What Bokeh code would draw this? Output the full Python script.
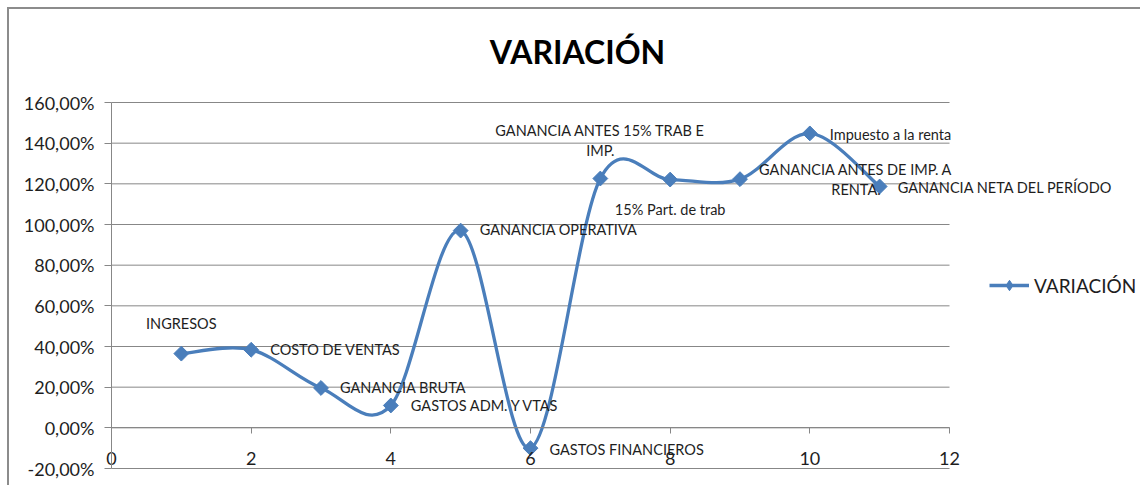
import numpy as np
from bokeh.plotting import figure
from bokeh.models import (ColumnDataSource, LabelSet, Label, Legend, LegendItem, FixedTicker,
                          CustomJSTickFormatter, Range1d)
from bokeh.embed import file_html
from bokeh.resources import INLINE
from bokeh.core.properties import value

# ---------------- data ----------------
x_pos = [1, 2, 3, 4, 5, 6, 7, 8, 9, 10, 11]
variacion = [36.5, 38.4, 19.6, 11.0, 97.0, -10.0, 122.6, 122.1, 122.3, 144.8, 118.7]
point_labels = ["INGRESOS", "COSTO DE VENTAS", "GANANCIA BRUTA", "GASTOS ADM. Y VTAS",
                "GANANCIA OPERATIVA", "GASTOS FINANCIEROS",
                "GANANCIA ANTES 15% TRAB E\nIMP.", "15% Part. de trab",
                "GANANCIA ANTES DE IMP. A\nRENTA.", "Impuesto a la renta",
                "GANANCIA NETA DEL PERÍODO"]
series_name = "VARIACIÓN"
title_text = "VARIACIÓN"
x_ticks = [0, 2, 4, 6, 8, 10, 12]
y_ticks = [-20, 0, 20, 40, 60, 80, 100, 120, 140, 160]

# label placement (pixels, style only)
lbl_dx = [0, 19, 19, 20, 19, 19, 0, 0, 116, 20, 18]
lbl_dy = [30, 0, 0, 0, 1, -1, 38, -30, 0, -1, -1]
lbl_align = ["center", "left", "left", "left", "left", "left", "center", "center", "center", "left", "left"]
LINE_H = 20

BLUE = "#4A7EBB"
GRID = "#878787"
TXT = "#1e1e1e"
FONT = "Lato"

# ---------------- geometry (canvas pixels) ----------------
W, H = 1133, 478
AXIS_X_PX = 102           # canvas x of x = 0
PLOT_TOP_PX = 93          # canvas y of the top of the plot area (160 %)
PLOT_BOT_PX = 459         # canvas y of the bottom of the plot area (-20 %)
TITLE_CX_PX = 568         # canvas x of the title centre
TITLE_CY_PX = 42          # canvas y of the title centre
PX_PER_X = 838.0 / 12.0
PX_PER_Y = (PLOT_BOT_PX - PLOT_TOP_PX) / (y_ticks[-1] - y_ticks[0])

x_start = -AXIS_X_PX / PX_PER_X
x_end = (W - AXIS_X_PX) / PX_PER_X
y_end = y_ticks[-1] + PLOT_TOP_PX / PX_PER_Y
y_start = y_ticks[0] - (H - PLOT_BOT_PX) / PX_PER_Y

p = figure(width=W, height=H, output_backend="svg", toolbar_location=None,
           x_range=Range1d(x_start, x_end), y_range=Range1d(y_start, y_end),
           min_border=0)
p.styles = {"margin-left": "7px", "margin-top": "7px",
            "border-top": "2px solid #8c8c8c", "border-left": "2px solid #8c8c8c"}
p.outline_line_color = None
p.background_fill_color = "white"
p.border_fill_color = "white"

# horizontal gridlines limited to the plotting area (x from first to last tick)
p.ygrid.grid_line_color = None
p.xgrid.grid_line_color = None
p.segment(x0=[x_ticks[0]] * len(y_ticks), x1=[x_ticks[-1]] * len(y_ticks),
          y0=y_ticks, y1=y_ticks, line_color=GRID, line_width=1)

# smoothed line (Catmull-Rom style bezier segments, like Excel's smoothed line)
X = np.array(x_pos, dtype=float)
Y = np.array(variacion, dtype=float)
n = len(X)
Xp = np.concatenate([[X[0]], X, [X[-1]]])
Yp = np.concatenate([[Y[0]], Y, [Y[-1]]])
seg = ColumnDataSource(dict(
    x0=X[:-1], y0=Y[:-1], x1=X[1:], y1=Y[1:],
    cx0=X[:-1] + (Xp[2:n + 1] - Xp[0:n - 1]) / 6.0,
    cy0=Y[:-1] + (Yp[2:n + 1] - Yp[0:n - 1]) / 6.0,
    cx1=X[1:] - (Xp[3:n + 2] - Xp[1:n]) / 6.0,
    cy1=Y[1:] - (Yp[3:n + 2] - Yp[1:n]) / 6.0,
))
bez = p.bezier(x0="x0", y0="y0", x1="x1", y1="y1", cx0="cx0", cy0="cy0", cx1="cx1", cy1="cy1",
               source=seg, line_color=BLUE, line_width=3.3)

sc = p.scatter(x=x_pos, y=variacion, marker="square", size=10.5, angle=np.pi / 4,
               fill_color=BLUE, line_color=BLUE)
# legend-only marker (no visible point)
leg_marker = p.scatter(x=[np.nan], y=[np.nan], marker="diamond", fill_color=BLUE, line_color=BLUE)

# data labels (multi-line labels split into rows so each line is centred)
rows = dict(x=[], y=[], text=[], dx=[], dy=[], align=[])
for i, lab in enumerate(point_labels):
    lines = lab.split("\n")
    k = len(lines)
    for j, line in enumerate(lines):
        rows["x"].append(x_pos[i])
        rows["y"].append(variacion[i])
        rows["text"].append(line)
        rows["dx"].append(lbl_dx[i])
        rows["dy"].append(lbl_dy[i] + (k - 1) / 2 * LINE_H - j * LINE_H)
        rows["align"].append(lbl_align[i])
lsrc = ColumnDataSource(rows)
labels = LabelSet(x="x", y="y", text="text", source=lsrc, x_offset="dx", y_offset="dy",
                  text_align="align", text_baseline="middle",
                  text_font=value(FONT), text_font_size="14.5px", text_color=TXT)
p.add_layout(labels)

# axes (fixed inside the frame)
p.xaxis.ticker = FixedTicker(ticks=x_ticks)
p.xaxis.fixed_location = 0
p.xaxis.bounds = (x_ticks[0], x_ticks[-1])
p.xaxis.axis_line_color = GRID
p.xaxis.major_tick_line_color = GRID
p.xaxis.major_tick_out = 6
p.xaxis.major_tick_in = 0
p.xaxis.minor_tick_line_color = None
p.xaxis.major_label_standoff = 18
p.xaxis.major_label_text_font = FONT
p.xaxis.major_label_text_font_size = "18px"
p.xaxis.major_label_text_color = TXT

p.yaxis.ticker = FixedTicker(ticks=y_ticks)
p.yaxis.fixed_location = 0
p.yaxis.bounds = (y_ticks[0], y_ticks[-1])
p.yaxis.formatter = CustomJSTickFormatter(code="return tick.toFixed(2).replace('.', ',') + '%';")
p.yaxis.axis_line_color = GRID
p.yaxis.major_tick_line_color = GRID
p.yaxis.major_tick_out = 7
p.yaxis.major_tick_in = 0
p.yaxis.minor_tick_line_color = None
p.yaxis.major_label_standoff = 10
p.yaxis.major_label_text_font = FONT
p.yaxis.major_label_text_font_size = "18px"
p.yaxis.major_label_text_color = TXT

# title (centred over the whole chart area)
title_x = (TITLE_CX_PX - AXIS_X_PX) / PX_PER_X
title_y = y_ticks[-1] + (PLOT_TOP_PX - TITLE_CY_PX) / PX_PER_Y
p.add_layout(Label(x=title_x, y=title_y, text=title_text, text_align="center",
                   text_baseline="middle", text_font=FONT, text_font_size="32px",
                   text_font_style="bold", text_color="black"))

# legend
legend = Legend(items=[LegendItem(label=series_name, renderers=[bez, leg_marker])],
                location=(980, 189), margin=0, padding=0, spacing=0,
                glyph_width=40, glyph_height=26, label_standoff=5,
                label_text_font=FONT, label_text_font_size="19px", label_text_color=TXT,
                border_line_color=None, background_fill_alpha=0)
p.add_layout(legend)

open("out.html", "w").write(file_html(p, INLINE))
